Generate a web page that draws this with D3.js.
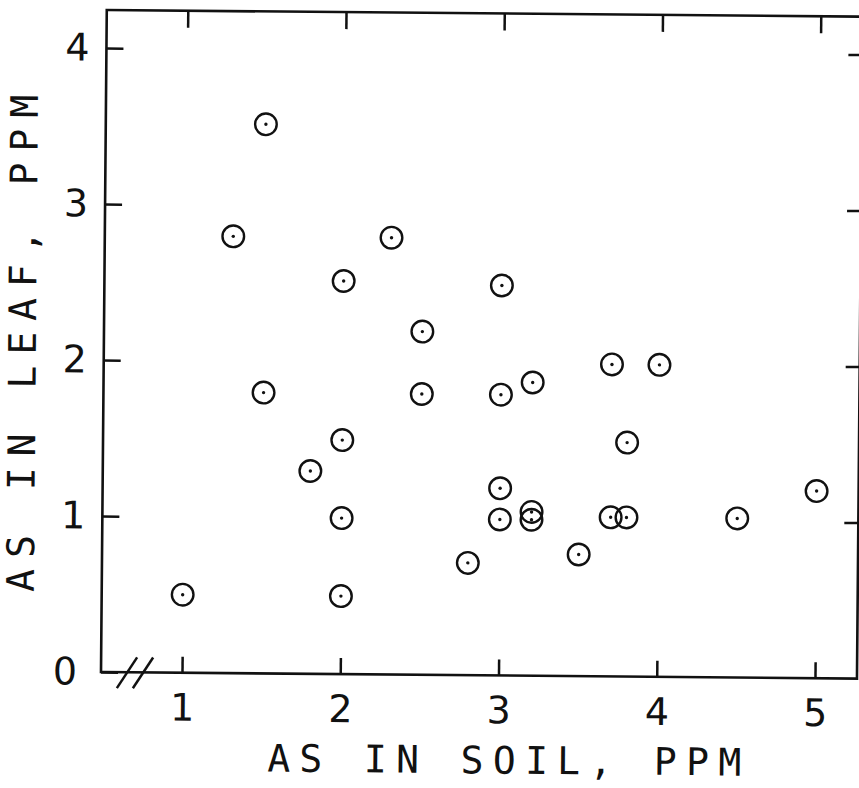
<!DOCTYPE html>
<html>
<head>
<meta charset="utf-8">
<script src="https://cdn.jsdelivr.net/npm/d3@7"></script>
<style>
  body { margin: 0; background: #fff; }
  svg { display: block; }
  .axis text { font-family: "DejaVu Sans", sans-serif; font-size: 38px; fill: #111; }
  .axis line { stroke: #111; stroke-width: 2.5; }
  .axis path { display: none; }
  .title { font-family: "DejaVu Sans Mono", monospace; font-size: 38px; fill: #111; }
</style>
</head>
<body>
<script>
// soil As (ppm) vs leaf As (ppm)
var soil = [1.5, 1.3, 1.5, 1.8, 1.0, 2.0, 2.0, 2.0, 2.0, 2.3, 2.5, 2.5, 2.8, 3.0,
            3.0, 3.0, 3.0, 3.2, 3.2, 3.2, 3.5, 3.7, 4.0, 3.8, 3.7, 3.8, 4.5, 5.0]
var leaf = [3.52, 2.8, 1.8, 1.3, 0.5, 2.52, 1.5, 1.0, 0.5, 2.8, 2.2, 1.8, 0.72, 2.5,
            1.8, 1.2, 1.0, 1.88, 1.05, 1.0, 0.78, 2.0, 2.0, 1.5, 1.02, 1.02, 1.02, 1.2]
var xTicks = [1, 2, 3, 4, 5]
var yTicks = [0, 1, 2, 3, 4]
var xTitle = "AS IN SOIL, PPM"
var yTitle = "AS IN LEAF, PPM"

var W = 859, H = 788
var m = {left: 101, right: 857, top: 10, bottom: 672}

var x = d3.scaleLinear().domain([1, 5]).range([182, 815])
var y = d3.scaleLinear().domain([0, 4]).range([m.bottom, 48])

var svg = d3.select("body").append("svg")
    .attr("width", W)
    .attr("height", H)

// the scan is turned a little clockwise
var g = svg.append("g")
    .attr("transform", "rotate(0.5," + m.left + "," + m.bottom + ")")

g.append("rect")
    .attr("x", m.left).attr("y", m.top)
    .attr("width", m.right - m.left).attr("height", m.bottom - m.top)
    .attr("fill", "none").attr("stroke", "#111").attr("stroke-width", 2.6)

g.append("g")
    .attr("class", "x axis")
    .attr("transform", "translate(0," + m.bottom + ")")
    .call(d3.axisBottom(x).tickValues(xTicks).tickSize(-16).tickSizeOuter(0).tickPadding(21).tickFormat(d3.format("d")))

g.append("g")
    .attr("class", "axis")
    .attr("transform", "translate(0," + m.top + ")")
    .call(d3.axisTop(x).tickValues(xTicks).tickSize(-17).tickSizeOuter(0).tickFormat(""))

var yAxis = g.append("g")
    .attr("class", "y axis")
    .attr("transform", "translate(" + m.left + ",0)")
    .call(d3.axisLeft(y).tickValues(yTicks).tickSize(-17).tickSizeOuter(0).tickPadding(17).tickFormat(d3.format("d")))

yAxis.selectAll(".tick").filter(function(d){ return d === 0 })
  .select("text").attr("x", -24)

g.append("g")
    .attr("class", "axis")
    .attr("transform", "translate(" + m.right + ",0)")
    .call(d3.axisRight(y).tickValues(yTicks.slice(1)).tickSize(-14).tickSizeOuter(0).tickFormat(""))

// axis break on the x axis
var brk = g.append("g").attr("stroke", "#111").attr("stroke-width", 2.5)
;[0, 16].forEach(function(o){
  brk.append("line")
      .attr("x1", 117 + o).attr("y1", m.bottom + 16)
      .attr("x2", 137 + o).attr("y2", m.bottom - 15)
})

var pts = soil.map(function(s, i){ return {soil: s, leaf: leaf[i]} })

var dots = g.append("g").selectAll("g")
    .data(pts).enter()
  .append("g")
    .attr("transform", function(d){ return "translate(" + x(d.soil) + "," + y(d.leaf) + ")" })

dots.append("circle")
    .attr("r", 10.8)
    .attr("fill", "none")
    .attr("stroke", "#111")
    .attr("stroke-width", 2.4)

dots.append("circle")
    .attr("r", 1.7)
    .attr("fill", "#111")

g.append("text")
    .attr("class", "title")
    .attr("x", 505).attr("y", 770)
    .attr("text-anchor", "middle")
    .attr("textLength", 474)
    .attr("lengthAdjust", "spacing")
    .text(xTitle)

g.append("text")
    .attr("class", "title")
    .attr("transform", "translate(33,344) rotate(-90)")
    .attr("text-anchor", "middle")
    .attr("textLength", 497)
    .attr("lengthAdjust", "spacing")
    .text(yTitle)
</script>
</body>
</html>
